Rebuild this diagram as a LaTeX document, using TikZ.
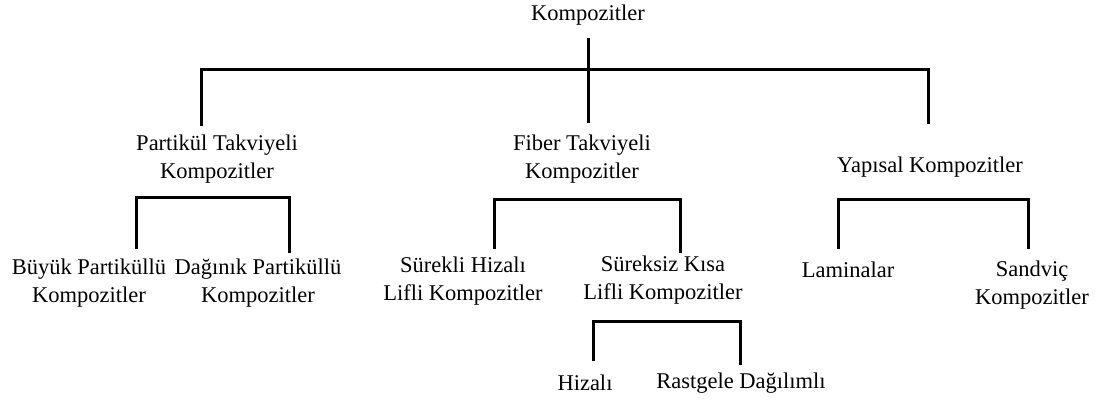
\documentclass[tikz,border=0pt]{standalone}
\usepackage{fontspec}
\setmainfont{Liberation Serif}
\tikzset{
  lbl/.style={inner sep=0pt, align=center, font=\fontsize{22.5}{28}\selectfont},
  conn/.style={line width=3pt, line cap=rect}
}
\begin{document}
\begin{tikzpicture}[x=1pt,y=-1pt]
\useasboundingbox (0,0) rectangle (1101,403);
% nodes
\node[lbl] (root) at (588,15) {Kompozitler};
\node[lbl] (part) at (217,159) {Partikül Takviyeli\\Kompozitler};
\node[lbl] (fib)  at (582,159) {Fiber Takviyeli\\Kompozitler};
\node[lbl] (yap)  at (930,167) {Yapısal Kompozitler};
\node[lbl] (buy)  at (89,283)  {Büyük Partiküllü\\Kompozitler};
\node[lbl] (dag)  at (258,283) {Dağınık Partiküllü\\Kompozitler};
\node[lbl] (sur)  at (463,281) {Sürekli Hizalı\\Lifli Kompozitler};
\node[lbl] (sks)  at (663,280) {Süreksiz Kısa\\Lifli Kompozitler};
\node[lbl] (lam)  at (848,270) {Laminalar};
\node[lbl] (san)  at (1032,285) {Sandviç\\Kompozitler};
\node[lbl] (hiz)  at (585,383) {Hizalı};
\node[lbl] (ras)  at (741,383) {Rastgele Dağılımlı};
% bracket coordinates
\coordinate (rt) at (588,40);
\coordinate (rb) at (588,122);
\coordinate (rl) at (201,70);
\coordinate (rr) at (928,70);
\coordinate (rlb) at (201,125);
\coordinate (rrb) at (928,123);
\draw[conn] (rt) -- (rb);
\draw[conn] (rlb) -- (rl) -- (rr) -- (rrb);
% Partikul
\draw[conn] (136,248) -- (136,198) -- (289,198) -- (289,252);
% Fiber
\draw[conn] (494,248) -- (494,200) -- (680,200) -- (680,252);
% Yapisal
\draw[conn] (838,248) -- (838,200) -- (1028,200) -- (1028,248);
% Sureksiz
\draw[conn] (593,360) -- (593,322) -- (740,322) -- (740,364);
\end{tikzpicture}
\end{document}
